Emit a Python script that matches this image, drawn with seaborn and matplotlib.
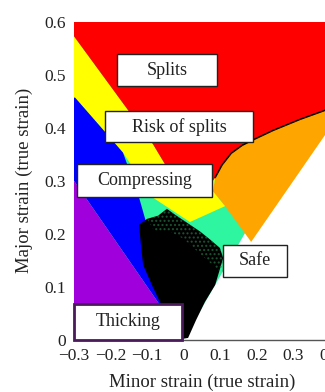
import matplotlib
matplotlib.use("Agg")
import matplotlib.pyplot as plt
import matplotlib.patches as mpatches
import seaborn as sns
import pandas as pd

sns.set_theme(style="white")
plt.rcParams["font.family"] = ["Liberation Serif", "DejaVu Serif"]

# Forming limit curve (right branch, above plane strain)
flc_minor = [0.086, 0.105, 0.130, 0.160, 0.195, 0.244, 0.318, 0.386, 0.45]
flc_major = [0.306, 0.330, 0.352, 0.367, 0.379, 0.395, 0.416, 0.433, 0.447]

# Splits zone, left boundary (from the major-strain axis down to the FLC minimum)
splits_left_minor = [-0.300, -0.174, -0.084, -0.051, 0.050, 0.080]
splits_left_major = [0.573, 0.454, 0.369, 0.331, 0.290, 0.300]

# Risk-of-splits (yellow) lower boundary, right to left
risk_low_minor = [0.080, 0.113, 0.017, -0.084, -0.166, -0.201, -0.297]
risk_low_major = [0.280, 0.252, 0.222, 0.268, 0.353, 0.381, 0.457]

# Compressing zone boundary towards safe zone
comp_minor = [-0.297, -0.201, -0.166, -0.122, -0.020]
comp_major = [0.457, 0.381, 0.353, 0.268, 0.020]

# Orange zone lower boundary (towards safe zone)
orange_low_minor = [0.186, 0.113, 0.080]
orange_low_major = [0.183, 0.252, 0.280]

# Measured strain cloud outline
cloud_minor = [-0.046, -0.024, 0.004, 0.045, 0.072, 0.099, 0.108, 0.105,
               0.086, 0.058, 0.034, 0.012, -0.005, -0.037, -0.065, -0.087,
               -0.111, -0.117, -0.122, -0.100, -0.070]
cloud_major = [0.247, 0.236, 0.223, 0.204, 0.189, 0.173, 0.154, 0.147,
               0.103, 0.071, 0.037, 0.003, 0.001, 0.037, 0.071, 0.103,
               0.141, 0.179, 0.217, 0.228, 0.234]

# Sparser upper fringe of the strain cloud
fringe_minor = [-0.100, -0.070, -0.046, -0.024, 0.004, 0.045, 0.072, 0.099,
                0.108, 0.105, 0.080, 0.040, 0.000, -0.040, -0.080]
fringe_major = [0.228, 0.234, 0.247, 0.236, 0.223, 0.204, 0.189, 0.173,
                0.154, 0.125, 0.140, 0.165, 0.190, 0.205, 0.205]

# Zone labels: text, box x-range, box y-range
zone_names = ["Splits", "Risk of splits", "Compressing", "Safe", "Thicking"]
zone_x0 = [-0.182, -0.215, -0.292, 0.107, -0.300]
zone_x1 = [0.091, 0.189, 0.077, 0.282, -0.005]
zone_y0 = [0.479, 0.373, 0.270, 0.118, 0.000]
zone_y1 = [0.539, 0.431, 0.331, 0.179, 0.067]

x_ticks = [-0.3, -0.2, -0.1, 0.0, 0.1, 0.2, 0.3, 0.4]
y_ticks = [0.0, 0.1, 0.2, 0.3, 0.4, 0.5, 0.6]

RED = "#ff0000"
YELLOW = "#ffff00"
BLUE = "#0000ff"
PURPLE = "#a000dc"
GREEN = "#2ef5a0"
ORANGE = "#ffa500"

fig = plt.figure(figsize=(3.25, 3.92), dpi=100)
ax = fig.add_axes([74 / 325, 52.5 / 392, 256 / 325, 317.5 / 392])
ax.set_xlim(-0.3, 0.4)
ax.set_ylim(0, 0.6)

XMIN, XMAX, YMAX = -0.3, 0.5, 0.6

# Safe zone as base layer
ax.fill([XMIN, 0, XMAX, XMIN], [0, 0, YMAX, YMAX], color=GREEN, lw=0, zorder=1)

# Orange zone
ox = flc_minor + [XMAX, XMAX] + orange_low_minor
oy = flc_major + [YMAX * 0.8, 0.2] + orange_low_major
ax.fill(ox, oy, color=ORANGE, lw=0, zorder=2)

# Risk of splits (yellow)
yx = [XMIN] + splits_left_minor[:-1] + [0.086] + risk_low_minor + [XMIN]
yy = [0.573] + splits_left_major[:-1] + [0.306] + risk_low_major + [0.457]
ax.fill(yx, yy, color=YELLOW, lw=0, zorder=2)

# Compressing (blue)
bx = [XMIN] + comp_minor + [XMIN]
by = [0.457] + comp_major + [0.300]
ax.fill(bx, by, color=BLUE, lw=0, zorder=3)

# Thickening (purple)
ax.fill([XMIN, XMIN, 0.0], [0.0, 0.300, 0.0], color=PURPLE, lw=0, zorder=3)

# Splits (red)
rx = [XMIN] + splits_left_minor + flc_minor + [XMAX, XMAX]
ry = [YMAX] + splits_left_major + flc_major + [0.447, YMAX]
ax.fill(rx, ry, color=RED, lw=0, zorder=4)

# Region below the equi-biaxial line (major < minor) left empty
ax.fill([0, XMAX, XMAX], [0, XMAX, 0], color="white", lw=0, zorder=5)

# Forming limit curve
flc = pd.DataFrame({"minor": flc_minor, "major": flc_major})
sns.lineplot(data=flc, x="minor", y="major", color="black", lw=1.1,
             ax=ax, zorder=6, sort=False)

# Measured strain cloud
ax.fill(cloud_minor, cloud_major, color="black", lw=0, zorder=7)
plt.rcParams["hatch.color"] = "#2a8a50"
ax.fill(fringe_minor, fringe_major, facecolor="none", edgecolor="#2a8a50",
        hatch="....", lw=0, zorder=7, alpha=0.55)

# Zone labels
for name, x0, x1, y0, y1 in zip(zone_names, zone_x0, zone_x1, zone_y0, zone_y1):
    edge = "#4a1a5a" if name == "Thicking" else "#222222"
    lw = 2.0 if name == "Thicking" else 1.0
    ax.add_patch(mpatches.Rectangle((x0, y0), x1 - x0, y1 - y0, facecolor="white",
                                    edgecolor=edge, lw=lw, zorder=8, clip_on=False))
    ax.text((x0 + x1) / 2, (y0 + y1) / 2, name, ha="center", va="center",
            fontsize=13, color="#222222", zorder=9)


def fmt(v):
    if abs(v) < 1e-9:
        return "0"
    s = f"{v:.1f}"
    return s.replace("-", "\u2212")


ax.set_xticks(x_ticks)
ax.set_xticklabels([fmt(v) for v in x_ticks])
ax.set_yticks(y_ticks)
ax.set_yticklabels([fmt(v) for v in y_ticks])
ax.tick_params(axis="both", length=0, pad=6, labelsize=12.5, labelcolor="#222222")

for side in ["top", "right", "left"]:
    ax.spines[side].set_visible(False)
ax.spines["bottom"].set_color("#555555")
ax.spines["bottom"].set_linewidth(1.0)
ax.spines["bottom"].set_zorder(6)

ax.set_xlabel("Minor strain (true strain)", fontsize=13.5, color="#222222", labelpad=7)
ax.set_ylabel("Major strain (true strain)", fontsize=13.5, color="#222222", labelpad=8)

fig.savefig("out.png", dpi=100)
